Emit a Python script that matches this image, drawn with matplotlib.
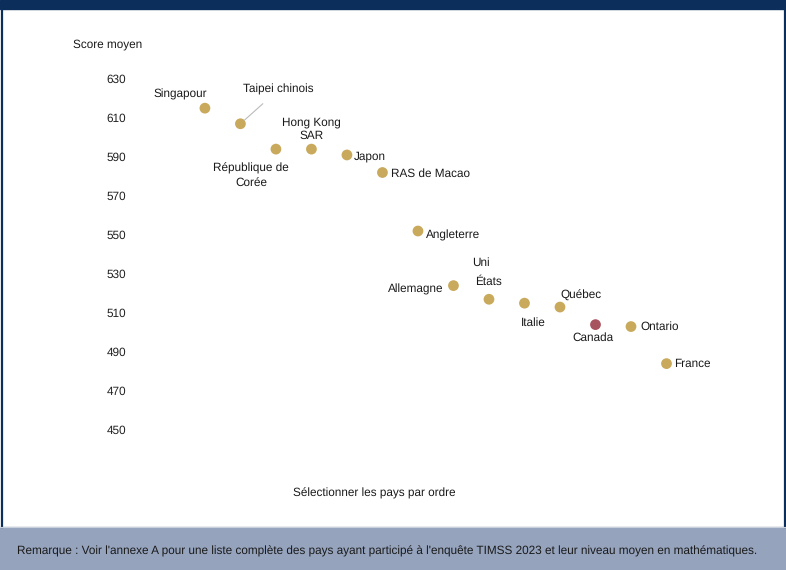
import matplotlib
matplotlib.use("Agg")
import matplotlib.pyplot as plt
from matplotlib.patches import Rectangle
from matplotlib.lines import Line2D

plt.rcParams['font.family'] = ['Liberation Sans', 'DejaVu Sans']
plt.rcParams['text.hinting'] = 'no_hinting'

countries = ["Singapour", "Taipei chinois", "République de Corée", "Hong Kong SAR",
             "Japon", "RAS de Macao", "Angleterre", "Allemagne", "États-Unis",
             "Italie", "Québec", "Canada", "Ontario", "France"]
scores = [615, 607, 594, 594, 591, 582, 552, 524, 517, 515, 513, 504, 503, 484]
yticks = [450, 470, 490, 510, 530, 550, 570, 590, 610, 630]

W, H = 786, 570
fig = plt.figure(figsize=(W / 100, H / 100), dpi=100)

def fx(px):
    return px / W

def fy(py):
    return 1 - py / H

# frame elements
navy = "#0B2F5A"
fig.patches.append(Rectangle((0, fy(9)), 1, 9 / H, transform=fig.transFigure, color=navy, zorder=0))
fig.patches.append(Rectangle((0, 0), 1, 43 / H, transform=fig.transFigure, color="#95A3BD", zorder=0))
fig.lines.append(Line2D([fx(1.5), fx(1.5)], [fy(527), fy(9)], transform=fig.transFigure, color=navy, lw=1.6))
fig.lines.append(Line2D([fx(784.5), fx(784.5)], [fy(527), fy(9)], transform=fig.transFigure, color=navy, lw=1.6))
fig.lines.append(Line2D([0, 1], [fy(526.5), fy(526.5)], transform=fig.transFigure, color="#C8D0DC", lw=0.8))

# axes: left 130px, right 740px, top 60px, bottom 450px
ax = fig.add_axes([fx(130), fy(450), (740 - 130) / W, (450 - 60) / H])
ax.set_facecolor("none")
x = list(range(len(countries)))
colors = ["#A8545F" if c == "Canada" else "#C9A95B" for c in countries]
ax.scatter(x, scores, s=60, c=colors, edgecolors="none", zorder=3)
ax.set_xlim(-2.11, 15.07)
ax.set_ylim(439.7, 639.7)
ax.set_yticks(yticks)
ax.set_yticklabels([str(t) for t in yticks])
ax.set_xticks([])
ax.tick_params(axis="y", length=0, labelsize=8.45, colors="#222222", pad=3)
for s in ax.spines.values():
    s.set_visible(False)

tc = "#1a1a1a"
fs = 8.45
def lab(i, text, dx, dy, ha="center", va="center"):
    ax.annotate(text, (x[i], scores[i]), xytext=(dx, dy), textcoords="offset pixels",
                ha=ha, va=va, fontsize=fs, color=tc, linespacing=1.35)

lab(0, "Singapour", -25, 14)
ax.annotate("Taipei chinois", (x[1], scores[1]), xytext=(38, 34), textcoords="offset pixels",
            ha="center", va="center", fontsize=fs, color=tc,
            arrowprops=dict(arrowstyle="-", color="#BBBBBB", lw=0.8, shrinkA=6, shrinkB=4))
lab(2, "République de\nCorée", -25, -26)
lab(3, "Hong Kong\nSAR", 0, 20)
lab(4, "Japon", 7, -1, ha="left")
lab(5, "RAS de Macao", 9, -1, ha="left")
lab(6, "Angleterre", 8, -4, ha="left")
lab(7, "Allemagne", -10, -4, ha="right")
lab(8, "Uni", -8, 36)
lab(8, "États", -1, 17)
lab(9, "Italie", 9, -20)
lab(10, "Québec", 21, 11)
lab(11, "Canada", -3, -13)
lab(12, "Ontario", 9, 0, ha="left")
lab(13, "France", 8, 0, ha="left")

fig.text(fx(73), fy(44), "Score moyen", fontsize=fs, color=tc, ha="left", va="center")
fig.text(fx(374), fy(493), "Sélectionner les pays par ordre", fontsize=fs, color=tc, ha="center", va="center")
fig.text(fx(387), fy(551), "Remarque : Voir l'annexe A pour une liste complète des pays ayant participé à l'enquête TIMSS 2023 et leur niveau moyen en mathématiques.",
         fontsize=fs, color=tc, ha="center", va="center")

fig.savefig("out.png", dpi=100)
